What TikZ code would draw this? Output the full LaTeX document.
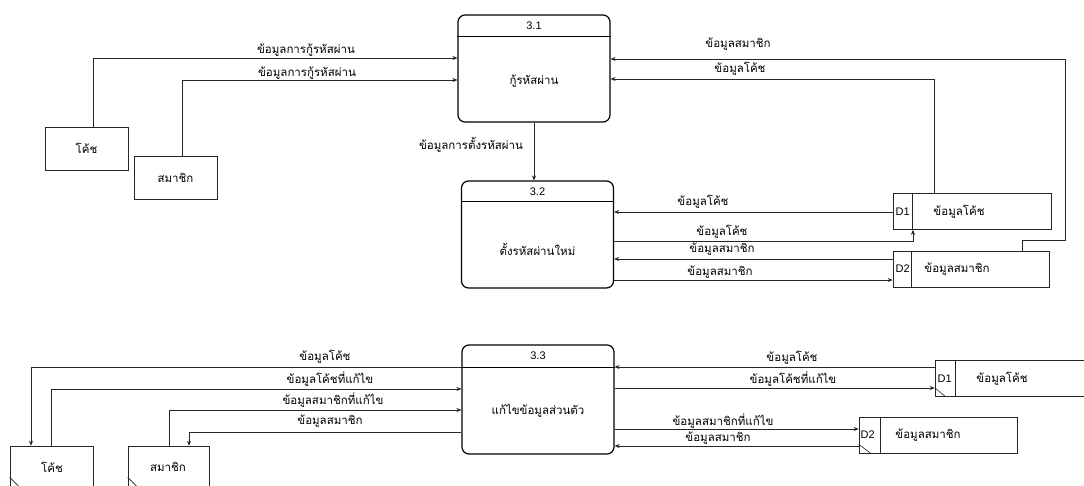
\documentclass[tikz,border=0pt]{standalone}
\usepackage{fontspec}
\setmainfont{Liberation Sans}
\newfontfamily\thaifont[Script=Thai]{Loma}
\usetikzlibrary{arrows.meta,calc}

\begin{document}
\begin{tikzpicture}[x=1pt,y=-1pt,
  ink/.style={draw=black!85, line width=0.6pt},
  flow/.style={ink, -{Stealth[length=5pt,width=4pt]}},
  proc/.style={draw=black, line width=1.2pt, rounded corners=7pt,
    minimum width=152pt, minimum height=107pt, inner sep=0pt},
  ent/.style={ink, minimum width=83pt, minimum height=43pt, inner sep=0pt,
    font=\thaifont\fontsize{11.5}{13}\selectfont},
  store/.style={ink, minimum height=36pt, inner sep=0pt},
  lbl/.style={inner sep=0pt, font=\thaifont\fontsize{11.5}{13}\selectfont},
  num/.style={inner sep=0pt, font=\fontsize{11}{13}\selectfont},
]
\useasboundingbox (0,0) rectangle (1084,485);
\fill[white] (0,0) rectangle (1084,485);

% ---------- processes ----------
\node[proc] (p31) at (534,68.5) {};
\draw[line width=1.2pt] ($(p31.north west)+(0,22)$) -- ($(p31.north east)+(0,22)$);
\node[num] (p31-id) at ($(p31.north)+(0,11.5)$) {3.1};
\node[lbl] (p31-name) at (534,81) {กู้รหัสผ่าน};

\node[proc] (p32) at (537.5,234.5) {};
\draw[line width=1.2pt] ($(p32.north west)+(0,21)$) -- ($(p32.north east)+(0,21)$);
\node[num] (p32-id) at ($(p32.north)+(0,11)$) {3.2};
\node[lbl] (p32-name) at (537.5,249) {ตั้งรหัสผ่านใหม่};

\node[proc, minimum height=109pt] (p33) at (538,399.5) {};
\draw[line width=1.2pt] ($(p33.north west)+(0,23)$) -- ($(p33.north east)+(0,23)$);
\node[num] (p33-id) at ($(p33.north)+(0,11.5)$) {3.3};
\node[lbl] (p33-name) at (538,411) {แก้ไขข้อมูลส่วนตัว};

% ---------- external entities ----------
\node[ent] (coach1) at (86.5,148.5) {โค้ช};
\node[ent] (member1) at (175.5,177.5) {สมาชิก};

\node[ent] (coach2) at (51.5,467.5) {};
\node[lbl] (coach2-name) at (52,467) {โค้ช};
\draw[ink] ($(coach2.south west)+(0,-12)$) -- ($(coach2.south west)+(12,0)$);
\node[ent, minimum width=81pt] (member2) at (168.5,467.5) {};
\node[lbl] (member2-name) at (168,467) {สมาชิก};
\draw[ink] ($(member2.south west)+(0,-12)$) -- ($(member2.south west)+(12,0)$);

% ---------- data stores ----------
\node[store, minimum width=158pt] (d1a) at (972,211.5) {};
\draw[ink] ($(d1a.north west)+(20,0)$) -- ($(d1a.south west)+(20,0)$);
\node[num] (d1a-id) at ($(d1a.west)+(10,0)$) {D1};
\node[lbl] (d1a-name) at (959,212) {ข้อมูลโค้ช};

\node[store, minimum width=156pt] (d2a) at (971,269) {};
\draw[ink] ($(d2a.north west)+(19,0)$) -- ($(d2a.south west)+(19,0)$);
\node[num] (d2a-id) at ($(d2a.west)+(10,0)$) {D2};
\node[lbl] (d2a-name) at (957,269) {ข้อมูลสมาชิก};

\node[store, minimum width=160pt] (d1b) at (1015,378.5) {};
\draw[ink] ($(d1b.north west)+(21,0)$) -- ($(d1b.south west)+(21,0)$);
\draw[ink] ($(d1b.south west)+(0,-9)$) -- ($(d1b.south west)+(11,0)$);
\node[num] (d1b-id) at ($(d1b.west)+(10,0)$) {D1};
\node[lbl] (d1b-name) at (1002,379) {ข้อมูลโค้ช};

\node[store, minimum width=158pt] (d2b) at (938,435) {};
\draw[ink] ($(d2b.north west)+(22,0)$) -- ($(d2b.south west)+(22,0)$);
\draw[ink] ($(d2b.south west)+(0,-9)$) -- ($(d2b.south west)+(12,0)$);
\node[num] (d2b-id) at ($(d2b.west)+(9,0)$) {D2};
\node[lbl] (d2b-name) at (928,435) {ข้อมูลสมาชิก};

% ---------- flows of 3.1 / 3.2 ----------
\draw[flow] (coach1.north -| 93,0) |- (p31.west |- 0,58);
\node[lbl] (f1) at (306,50) {ข้อมูลการกู้รหัสผ่าน};
\draw[flow] (member1.north -| 182,0) |- (p31.west |- 0,80);
\node[lbl] (f2) at (307,73) {ข้อมูลการกู้รหัสผ่าน};

\draw[flow] (p31.south) -- (p32.north -| p31.south);
\node[lbl] (f3) at (471,145) {ข้อมูลการตั้งรหัสผ่าน};

\draw[flow] (d1a.north -| 934,0) |- (p31.east |- 0,79);
\node[lbl] (f4) at (740,69) {ข้อมูลโค้ช};
\draw[flow] (d2a.north -| 1022,0) -- (1022,240) -- (1065,240) -- (1065,59) -- (p31.east |- 0,59);
\node[lbl] (f5) at (738,44) {ข้อมูลสมาชิก};

\draw[flow] (d1a.west |- 0,212) -- (p32.east |- 0,212);
\node[lbl] (f6) at (703,202) {ข้อมูลโค้ช};
\draw[flow] (p32.east |- 0,241) -| (d1a.south -| 913,0);
\node[lbl] (f7) at (722,232) {ข้อมูลโค้ช};
\draw[flow] (d2a.west |- 0,259) -- (p32.east |- 0,259);
\node[lbl] (f8) at (722,249) {ข้อมูลสมาชิก};
\draw[flow] (p32.east |- 0,280) -- (d2a.west |- 0,280);
\node[lbl] (f9) at (720,272) {ข้อมูลสมาชิก};

% ---------- flows of 3.3 ----------
\draw[flow] (p33.west |- 0,367) -| (coach2.north -| 31,0);
\node[lbl] (g1) at (325,357) {ข้อมูลโค้ช};
\draw[flow] (coach2.north -| 51,0) |- (p33.west |- 0,389);
\node[lbl] (g2) at (330,379) {ข้อมูลโค้ชที่แก้ไข};
\draw[flow] (member2.north -| 169,0) |- (p33.west |- 0,410);
\node[lbl] (g3) at (333,400) {ข้อมูลสมาชิกที่แก้ไข};
\draw[flow] (p33.west |- 0,432) -| (member2.north -| 189,0);
\node[lbl] (g4) at (330,421) {ข้อมูลสมาชิก};

\draw[flow] (d1b.west |- 0,367) -- (p33.east |- 0,367);
\node[lbl] (g5) at (792,358) {ข้อมูลโค้ช};
\draw[flow] (p33.east |- 0,388) -- (d1b.west |- 0,388);
\node[lbl] (g6) at (793,379) {ข้อมูลโค้ชที่แก้ไข};
\draw[flow] (p33.east |- 0,429) -- (d2b.west |- 0,429);
\node[lbl] (g7) at (723,421) {ข้อมูลสมาชิกที่แก้ไข};
\draw[flow] (d2b.west |- 0,446) -- (p33.east |- 0,446);
\node[lbl] (g8) at (718,438) {ข้อมูลสมาชิก};
\end{tikzpicture}
\end{document}
